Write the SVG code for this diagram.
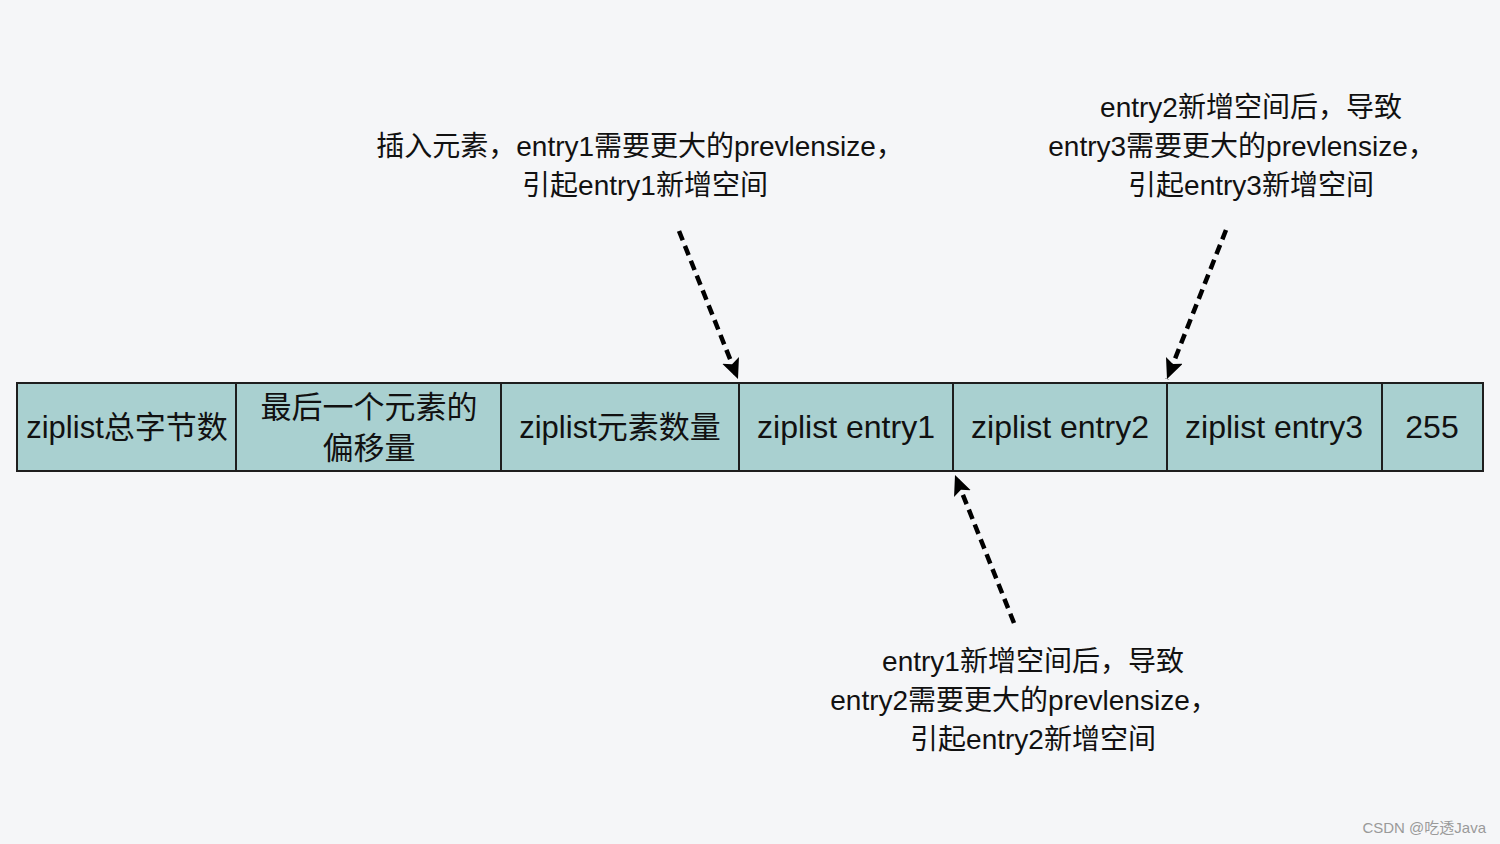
<svg xmlns="http://www.w3.org/2000/svg" width="1500" height="844" viewBox="0 0 1500 844">
<style>
.cell{fill:#a9d0d0;stroke:#1e1e1e;stroke-width:2}
.t{font-family:"Liberation Sans","Noto Sans CJK SC",sans-serif;fill:#111;text-anchor:middle}
.ct{font-size:31px}
.lt{font-size:32px}
.at{font-size:28px}
.conn{stroke:#000;stroke-width:4.5;stroke-dasharray:10 6;fill:none}
.wm{font-family:"Liberation Sans","Noto Sans CJK SC",sans-serif;font-size:15px;fill:#9a9a9a}
</style>
<defs>
<marker id="ah" markerUnits="userSpaceOnUse" markerWidth="22" markerHeight="20" refX="20" refY="9" orient="auto">
<path d="M0,0 L20,9 L0,18 L4,9 Z" fill="#000"/>
</marker>
</defs>
<rect width="1500" height="844" fill="#f5f6f8"/>
<g id="ziplist">
<g id="zlbytes"><rect class="cell" x="17" y="383" width="219" height="88"/><text class="t ct" x="127" y="438">ziplist总字节数</text></g>
<g id="zltail"><rect class="cell" x="236" y="383" width="265" height="88"/><text class="t ct" x="369" y="418">最后一个元素的</text><text class="t ct" x="369" y="459">偏移量</text></g>
<g id="zllen"><rect class="cell" x="501" y="383" width="238" height="88"/><text class="t ct" x="620" y="438">ziplist元素数量</text></g>
<g id="entry1"><rect class="cell" x="739" y="383" width="214" height="88"/><text class="t lt" x="846" y="438">ziplist entry1</text></g>
<g id="entry2"><rect class="cell" x="953" y="383" width="214" height="88"/><text class="t lt" x="1060" y="438">ziplist entry2</text></g>
<g id="entry3"><rect class="cell" x="1167" y="383" width="215" height="88"/><text class="t lt" x="1274" y="438">ziplist entry3</text></g>
<g id="zlend"><rect class="cell" x="1382" y="383" width="101" height="88"/><text class="t lt" x="1432" y="438">255</text></g>
</g>
<g id="label1">
<text class="t at" x="640" y="156">插入元素，entry1需要更大的prevlensize，</text>
<text class="t at" x="645" y="195">引起entry1新增空间</text>
</g>
<g id="label2">
<text class="t at" x="1251" y="117">entry2新增空间后，导致</text>
<text class="t at" x="1242" y="156">entry3需要更大的prevlensize，</text>
<text class="t at" x="1251" y="195">引起entry3新增空间</text>
</g>
<g id="label3">
<text class="t at" x="1033" y="671">entry1新增空间后，导致</text>
<text class="t at" x="1024" y="710">entry2需要更大的prevlensize，</text>
<text class="t at" x="1033" y="749">引起entry2新增空间</text>
</g>
<g id="connectors">
<line class="conn" x1="679" y1="231" x2="738" y2="379" marker-end="url(#ah)"/>
<line class="conn" x1="1226" y1="230" x2="1167" y2="379" marker-end="url(#ah)"/>
<line class="conn" x1="1014" y1="623" x2="955" y2="475" marker-end="url(#ah)"/>
</g>
<text class="wm" x="1486" y="833" text-anchor="end">CSDN @吃透Java</text>
</svg>
